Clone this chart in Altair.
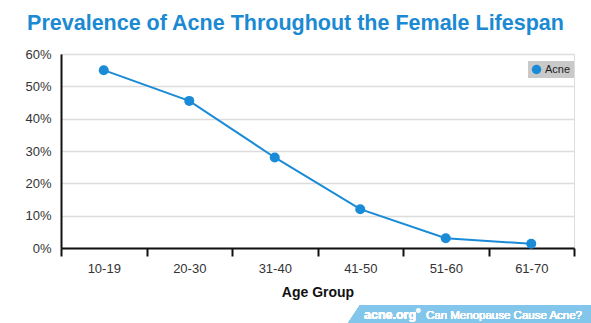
import altair as alt
import pandas as pd

age_groups = ["10-19", "20-30", "31-40", "41-50", "51-60", "61-70"]
prevalence = [0.55, 0.455, 0.28, 0.12, 0.03, 0.013]
series = ["Acne"] * 6
y_ticks = [0, 0.1, 0.2, 0.3, 0.4, 0.5, 0.6]

df = pd.DataFrame({"Age Group": age_groups, "Prevalence": prevalence, "Series": series})

BLUE = "#1a8bd6"
TITLE_BLUE = "#1b8ad3"
BANNER = "#82c6eb"
FONT = "Liberation Sans"

x_enc = alt.X(
    "Age Group:N",
    sort=age_groups,
    scale=alt.Scale(paddingInner=0, paddingOuter=0),
    axis=alt.Axis(
        title="Age Group",
        titleFont=FONT,
        titleFontSize=14,
        titleFontWeight="bold",
        titleColor="#111111",
        titlePadding=10,
        labelFont=FONT,
        labelFontSize=13,
        labelColor="#333333",
        labelAngle=0,
        labelPadding=6,
        tickBand="extent",
        tickColor="#111111",
        tickWidth=2,
        tickSize=8,
        domainColor="#111111",
        domainWidth=2,
        grid=False,
    ),
)
y_enc = alt.Y(
    "Prevalence:Q",
    scale=alt.Scale(domain=[0, 0.6], nice=False),
    axis=alt.Axis(
        title=None,
        values=y_ticks,
        format=".0%",
        labelFont=FONT,
        labelFontSize=13,
        labelColor="#333333",
        labelPadding=10,
        ticks=False,
        domainColor="#111111",
        domainWidth=2,
        grid=True,
        gridColor="#dcdcdc",
        gridWidth=1.5,
    ),
)

base = alt.Chart(df)

line = base.mark_line(color=BLUE, strokeWidth=2).encode(x=x_enc, y=y_enc)
points = base.mark_point(filled=True, size=100, opacity=1, strokeWidth=0).encode(
    x=x_enc,
    y=y_enc,
    color=alt.Color(
        "Series:N",
        scale=alt.Scale(range=[BLUE]),
        legend=alt.Legend(
            title=None,
            orient="none",
            legendX=467,
            legendY=7,
            fillColor="#c9c9c9",
            padding=3,
            symbolType="circle",
            symbolSize=90,
            symbolStrokeWidth=0,
            labelFont=FONT,
            labelFontSize=11,
            labelColor="#222222",
            labelOffset=3,
        ),
    ),
)

# footer banner
banner_rect = alt.Chart(df).mark_rect(color=BANNER).encode(
    x=alt.value(298), x2=alt.value(530), y=alt.value(251), y2=alt.value(269)
)
banner_tri = alt.Chart(df).mark_point(
    shape="M 1 -1 L 1 1 L -0.333 1 Z", filled=True, color=BANNER, opacity=1, strokeWidth=0, size=324
).encode(x=alt.value(290), y=alt.value(260))
banner_txt1 = alt.Chart(df).mark_text(
    text="acne.org", font=FONT, fontSize=12.5, fontWeight="bold", color="white", align="left", baseline="alphabetic"
).encode(x=alt.value(303), y=alt.value(265))
banner_reg = alt.Chart(df).mark_text(
    text="®", font=FONT, fontSize=6, color="white", align="left", baseline="alphabetic"
).encode(x=alt.value(355), y=alt.value(259))
banner_txt2 = alt.Chart(df).mark_text(
    text="Can Menopause Cause Acne?", font=FONT, fontSize=11.5, fontWeight="normal", color="white", align="left", baseline="alphabetic"
).encode(x=alt.value(365), y=alt.value(265))

chart = (
    alt.layer(line, points, banner_rect, banner_tri, banner_txt1, banner_reg, banner_txt2)
    .properties(
        width=513,
        height=194,
        autosize=alt.AutoSizeParams(type="none"),
        padding={"left": 61, "top": 54, "right": 17, "bottom": 75},
        title=alt.TitleParams(
            text="Prevalence of Acne Throughout the Female Lifespan",
            font=FONT,
            fontSize=21.5,
            fontWeight="bold",
            color=TITLE_BLUE,
            anchor="middle",
            dx=-22,
            offset=14,
        ),
    )
    .configure_view(stroke=None)
    .configure(background="white")
)

chart.save("out.html", embed_options={"renderer": "svg", "actions": False})
